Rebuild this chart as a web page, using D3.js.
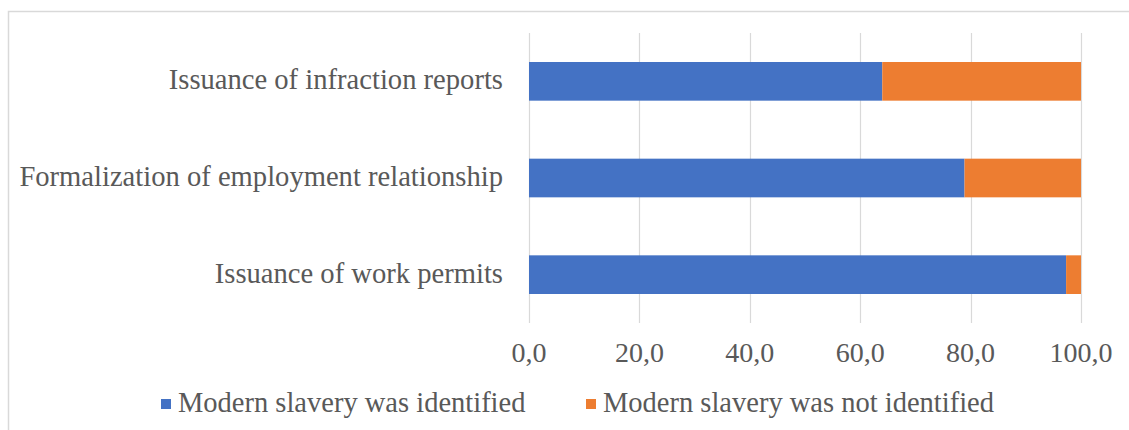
<!DOCTYPE html>
<html>
<head>
<meta charset="utf-8">
<script src="https://cdn.jsdelivr.net/npm/d3@7"></script>
<style>
  html, body { margin: 0; padding: 0; background: #ffffff; }
  svg { display: block; }
  text { font-family: "Liberation Serif", "Times New Roman", serif; fill: #595959; }
</style>
</head>
<body>
<svg id="chart" width="1129" height="430"></svg>
<script>
// Outcomes of labour inspections, share of cases (%)
const categories = [
  "Issuance of infraction reports",
  "Formalization of employment relationship",
  "Issuance of work permits"
];
const identified = [64.0, 78.9, 97.3];
const notIdentified = [36.0, 21.1, 2.7];
const seriesNames = ["Modern slavery was identified", "Modern slavery was not identified"];
const tickValues = [0, 20, 40, 60, 80, 100];

const colors = ["#4472C4", "#ED7D31"];

const svg = d3.select("#chart");

// Chart frame
svg.append("rect")
  .attr("x", 8.5).attr("y", 11.5)
  .attr("width", 1140).attr("height", 440)
  .attr("fill", "none")
  .attr("stroke", "#d9d9d9")
  .attr("stroke-width", 1.5);

const x = d3.scaleLinear().domain([0, 100]).range([529, 1081]);
const y = d3.scaleBand().domain(categories).range([33, 323]).paddingInner(0.6).paddingOuter(0.3);

const locale = d3.formatLocale({ decimal: ",", thousands: ".", grouping: [3], currency: ["", ""] });
const fmt = locale.format(".1f");

// Vertical gridlines
svg.append("g")
  .selectAll("line")
  .data(tickValues)
  .join("line")
  .attr("x1", d => Math.round(x(d)) + 0.5)
  .attr("x2", d => Math.round(x(d)) + 0.5)
  .attr("y1", 33).attr("y2", 323)
  .attr("stroke", "#d9d9d9")
  .attr("stroke-width", 1.2);

// Tick labels
svg.append("g")
  .selectAll("text")
  .data(tickValues)
  .join("text")
  .attr("x", d => x(d))
  .attr("y", 362)
  .attr("text-anchor", "middle")
  .attr("font-size", 28)
  .text(d => fmt(d));

// Stacked bars
const stackData = categories.map((c, i) => ({ cat: c, a: identified[i], b: notIdentified[i] }));
const stacked = d3.stack().keys(["a", "b"])(stackData);

svg.append("g")
  .selectAll("g")
  .data(stacked)
  .join("g")
  .attr("fill", (d, i) => colors[i])
  .selectAll("rect")
  .data(d => d)
  .join("rect")
  .attr("x", d => x(d[0]))
  .attr("width", d => x(d[1]) - x(d[0]))
  .attr("y", d => y(d.data.cat))
  .attr("height", y.bandwidth());

// Category labels
svg.append("g")
  .selectAll("text")
  .data(categories)
  .join("text")
  .attr("x", 503)
  .attr("y", d => y(d) + y.bandwidth() / 2 + 8)
  .attr("text-anchor", "end")
  .attr("font-size", 28.6)
  .text(d => d);

// Legend
const legendX = [161, 586];
const legend = svg.append("g")
  .selectAll("g")
  .data(seriesNames)
  .join("g")
  .attr("transform", (d, i) => `translate(${legendX[i]},0)`);
legend.append("rect")
  .attr("x", 0).attr("y", 399)
  .attr("width", 10).attr("height", 10)
  .attr("fill", (d, i) => colors[i]);
legend.append("text")
  .attr("x", 17).attr("y", 412)
  .attr("font-size", 28.5)
  .text(d => d);
</script>
</body>
</html>
